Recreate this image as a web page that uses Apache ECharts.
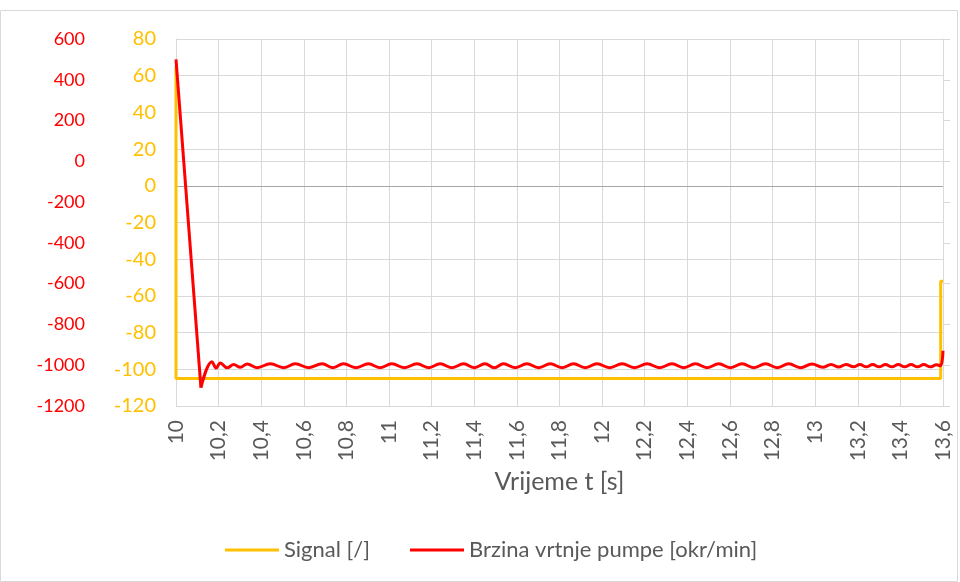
<!DOCTYPE html>
<html>
<head>
<meta charset="utf-8">
<script src="https://cdn.jsdelivr.net/npm/echarts@6/dist/echarts.min.js"></script>
<style>
  html, body { margin: 0; padding: 0; background: #ffffff; }
  #chart { width: 960px; height: 582px; }
</style>
</head>
<body>
<div id="chart"></div>
<script>
// Pump speed [okr/min]: start-up drop from the initial value to the first trough
const dropTime = [10.000, 10.117];
const dropRpm  = [   500,  -1110];

// Pump speed [okr/min]: peaks and troughs of the ripple that follows
const speedTime = [
  10.117, 10.169, 10.189, 10.208, 10.240, 10.271, 10.302, 10.334,
  10.380, 10.443, 10.506, 10.560, 10.623, 10.686, 10.736, 10.786, 10.845, 10.903,
  10.958, 11.013, 11.072, 11.131, 11.186, 11.240, 11.295, 11.350, 11.400, 11.450,
  11.494, 11.537, 11.592, 11.647, 11.702, 11.757, 11.812, 11.866, 11.921, 11.976,
  12.035, 12.094, 12.152, 12.211, 12.270, 12.328, 12.383, 12.438, 12.493, 12.547,
  12.602, 12.657, 12.712, 12.767, 12.822, 12.876, 12.931, 12.985, 13.035, 13.075,
  13.110, 13.145, 13.180, 13.210, 13.240, 13.270, 13.300, 13.330, 13.360, 13.390,
  13.420, 13.450, 13.480, 13.510, 13.540, 13.570, 13.588, 13.600
];
const speedRpm = [
  -1110,  -983, -1014,  -989, -1013,  -997, -1010,  -994,
  -1012,  -993, -1012,  -993, -1012,  -993, -1012,  -993, -1012,  -993,
  -1012,  -993, -1012,  -993, -1012,  -993, -1012,  -993, -1012,  -993,
  -1012,  -993, -1012,  -993, -1012,  -993, -1012,  -993, -1012,  -993,
  -1012,  -993, -1012,  -993, -1012,  -993, -1012,  -993, -1012,  -993,
  -1012,  -993, -1012,  -993, -1012,  -993, -1012,  -994, -1010,  -996,
  -1009,  -996, -1008,  -997, -1008,  -997, -1008,  -997, -1008,  -997,
  -1008,  -997, -1008,  -997, -1008,  -998, -1003,  -929
];

// Control signal [/]
const signalTime  = [10.000, 10.000, 13.589, 13.589, 13.600];
const signalValue = [    65,   -105,   -105,    -52,    -52];

// Axis ranges
const timeMin = 10, timeMax = 13.6, timeStep = 0.2;
const rpmMin = -1200, rpmMax = 600, rpmStep = 200;
const sigMin = -120, sigMax = 80, sigStep = 20;

const pairs = (xs, ys) => xs.map((x, i) => [x, ys[i]]);

const FONT = 'Lato';
const GRID_COLOR = '#d9d9d9';
const TEXT_COLOR = '#595959';
const SPEED_NAME = 'Brzina vrtnje pumpe [okr/min]';
const SIGNAL_NAME = 'Signal [/]';

const chart = echarts.init(document.getElementById('chart'), null, { renderer: 'canvas' });

chart.setOption({
  animation: false,
  backgroundColor: '#ffffff',
  textStyle: { fontFamily: FONT },
  graphic: [{
    type: 'rect',
    shape: { x: 0.5, y: 10.5, width: 957, height: 571 },
    style: { fill: 'none', stroke: '#d9d9d9', lineWidth: 1 },
    silent: true
  }],
  grid: { left: 176, right: 17, top: 39, bottom: 176, containLabel: false },
  legend: {
    left: 220,
    top: 534,
    itemWidth: 54,
    itemHeight: 3,
    itemGap: 40,
    icon: 'rect',
    textStyle: { fontFamily: FONT, fontSize: 22, color: TEXT_COLOR },
    data: [SIGNAL_NAME, SPEED_NAME]
  },
  xAxis: {
    type: 'value',
    min: timeMin,
    max: timeMax,
    interval: timeStep,
    name: 'Vrijeme t [s]',
    nameLocation: 'middle',
    nameGap: 59,
    nameTextStyle: { fontFamily: FONT, fontSize: 25, color: TEXT_COLOR },
    axisLine: { show: true, lineStyle: { color: GRID_COLOR, width: 1 } },
    axisTick: { show: false },
    splitLine: { show: true, lineStyle: { color: GRID_COLOR, width: 1 } },
    axisLabel: {
      rotate: 90,
      margin: 14,
      fontFamily: FONT,
      fontSize: 21,
      color: TEXT_COLOR,
      formatter: v => String(Number(v.toFixed(1))).replace('.', ',')
    }
  },
  yAxis: [
    {
      // speed scale, outer left
      type: 'value',
      position: 'left',
      offset: 72,
      min: rpmMin,
      max: rpmMax,
      interval: rpmStep,
      axisLine: { show: false },
      axisTick: { show: false },
      splitLine: { show: false },
      axisLabel: {
        fontFamily: FONT, fontSize: 18, color: '#ff0000', margin: 19,
        formatter: v => String(Math.round(v))
      }
    },
    {
      // signal scale, inner left
      type: 'value',
      position: 'left',
      min: sigMin,
      max: sigMax,
      interval: sigStep,
      axisLine: { show: true, lineStyle: { color: GRID_COLOR } },
      axisTick: { show: false },
      splitLine: { show: true, lineStyle: { color: GRID_COLOR, width: 1 } },
      axisLabel: {
        fontFamily: FONT, fontSize: 20, color: '#ffc000', margin: 20,
        formatter: v => String(Math.round(v))
      }
    },
    {
      // unlabelled secondary scale on the right
      type: 'value',
      position: 'right',
      min: 0,
      max: 9,
      interval: 1,
      axisLine: { show: true, lineStyle: { color: GRID_COLOR } },
      axisTick: { show: true, inside: false, length: 7, lineStyle: { color: GRID_COLOR } },
      splitLine: { show: false },
      axisLabel: { show: false }
    }
  ],
  series: [
    {
      name: SIGNAL_NAME,
      type: 'line',
      yAxisIndex: 1,
      data: pairs(signalTime, signalValue),
      showSymbol: false,
      symbol: 'none',
      lineStyle: { color: '#ffc000', width: 3 },
      itemStyle: { color: '#ffc000' },
      z: 3,
      markLine: {
        silent: true,
        symbol: 'none',
        label: { show: false },
        lineStyle: { color: '#a6a6a6', type: 'solid', width: 1 },
        data: [{ yAxis: 0 }],
        z: 1
      }
    },
    {
      name: SPEED_NAME,
      type: 'line',
      yAxisIndex: 0,
      data: pairs(dropTime, dropRpm),
      showSymbol: false,
      symbol: 'none',
      lineStyle: { color: '#ff0000', width: 3, join: 'round' },
      itemStyle: { color: '#ff0000' },
      z: 4
    },
    {
      name: SPEED_NAME,
      type: 'line',
      yAxisIndex: 0,
      data: pairs(speedTime, speedRpm),
      showSymbol: false,
      symbol: 'none',
      smooth: 0.4,
      lineStyle: { color: '#ff0000', width: 3 },
      itemStyle: { color: '#ff0000' },
      z: 4
    }
  ]
});
</script>
</body>
</html>
